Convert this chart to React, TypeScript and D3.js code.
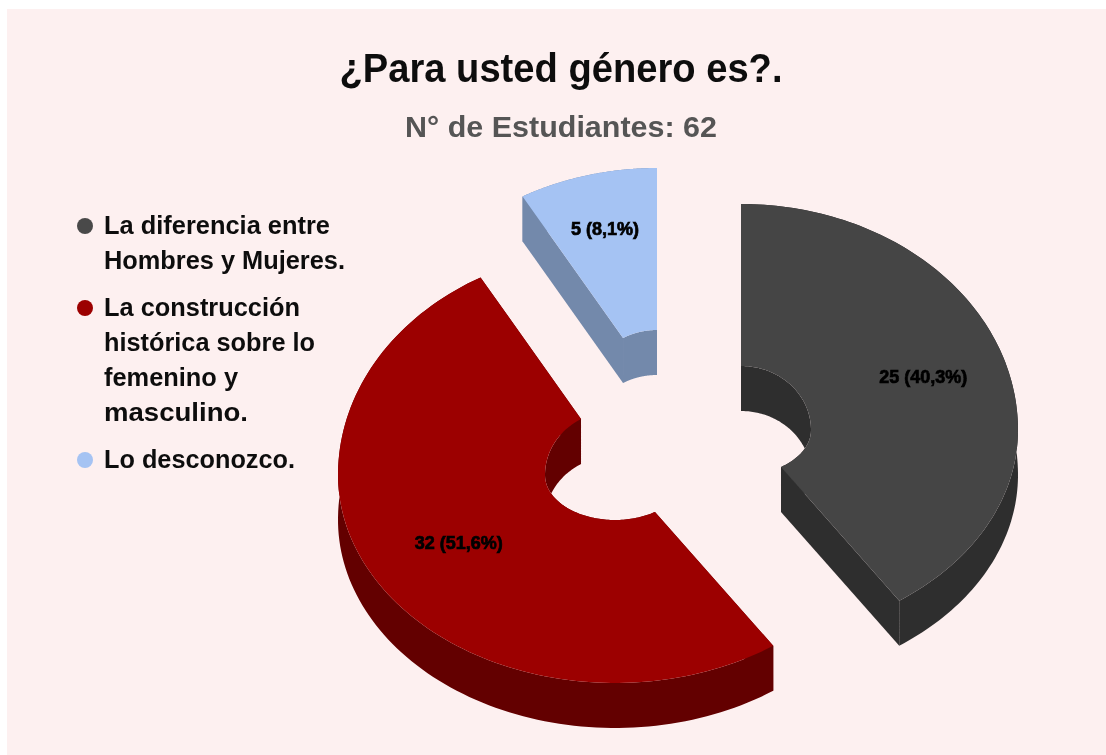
import React from "react";
import * as d3 from "d3";

const titleText = "¿Para usted género es?.";
const subtitleText = "N° de Estudiantes: 62";
const categories = ["La diferencia entre Hombres y Mujeres.", "La construcción histórica sobre lo femenino y masculino.", "Lo desconozco."];
const legendLines = [["La diferencia entre", "Hombres y Mujeres."], ["La construcción", "histórica sobre lo", "femenino y", "masculino."], ["Lo desconozco."]];
const legendWidths = [[226, 241], [196, 211, 134, 144], [191]];
const values = [25, 32, 5];
const topColors = ["#444444", "#9c0000", "#a5c3f3"];
const wallColors = ["#2f2f2f", "#640000", "#7389ab"];
const centersX = [741, 615, 657];
const centersY = [430, 475, 394];
const labelRadii = [0.69, 0.665, 0.75];
const labelNudge = [0, 1, 5];
const legendDots = ["#4a4a4a", "#9c0000", "#a5c3f3"];

const W = 1106, H = 755;
const RX = 277, RY_BACK = 226, RY_FRONT = 208;
const IRX = 70, IRY_BACK = 64, IRY_FRONT = 45;
const DEPTH = 45;
const FONT = "'Liberation Sans', Arial, sans-serif";

function outerPt(a: number, cx: number, cy: number, t = 1): [number, number] {
  const c = Math.cos(a);
  return [cx + RX * t * Math.sin(a), cy - (c > 0 ? RY_BACK : RY_FRONT) * t * c];
}
function innerPt(a: number, cx: number, cy: number): [number, number] {
  const c = Math.cos(a);
  return [cx + IRX * Math.sin(a), cy - (c > 0 ? IRY_BACK : IRY_FRONT) * c];
}
const line = d3.line();
const shift = (p: [number, number]): [number, number] => [p[0], p[1] + DEPTH];

export default function App() {
  const arcs = d3.pie<number>().sort(null)(values);
  const total = d3.sum(values);
  const fmt = (v: number) => `${v} (${((v / total) * 100).toFixed(1).replace(".", ",")}%)`;
  let y = 234;
  return (
    <svg width={W} height={H} style={{ position: "absolute", left: 0, top: 0, background: "#fff" }} fontFamily={FONT}>
      <defs>
        <filter id="soft" x="-5%" y="-5%" width="110%" height="110%">
          <feGaussianBlur stdDeviation="0.7" />
        </filter>
      </defs>
      <rect x={7} y={9} width={W - 7} height={H - 9} fill="#fdf0f0" />
      <g filter="url(#soft)">
        <text x={561} y={82} textAnchor="middle" fontSize={40} fontWeight="bold" fill="#111" textLength={443} lengthAdjust="spacingAndGlyphs">{titleText}</text>
        <text x={561} y={137} textAnchor="middle" fontSize={30} fontWeight="bold" fill="#555" textLength={312} lengthAdjust="spacingAndGlyphs">{subtitleText}</text>
        {arcs.map((d, i) => {
          const cx = centersX[i], cy = centersY[i];
          const angles = d3.range(0, 121).map((k) => d.startAngle + ((d.endAngle - d.startAngle) * k) / 120);
          const outer = angles.map((a) => outerPt(a, cx, cy));
          const inner = angles.map((a) => innerPt(a, cx, cy));
          const band = (pts: [number, number][]) => line([...pts, ...pts.map(shift).reverse()])! + "Z";
          const top = line([...outer, ...inner.slice().reverse()])! + "Z";
          const radial = (a: [number, number], b: [number, number]) => band([a, b]);
          const wall = wallColors[i];
          return (
            <g key={categories[i]}>
              <path d={band(outer)} fill={wall} />
              <path d={band(inner)} fill={wall} />
              <path d={radial(outer[0], inner[0])} fill={wall} />
              <path d={radial(outer[120], inner[120])} fill={wall} />
              <path d={top} fill={topColors[i]} />
            </g>
          );
        })}
        {arcs.map((d, i) => {
          const mid = (d.startAngle + d.endAngle) / 2;
          const [x, yy] = outerPt(mid, centersX[i], centersY[i], labelRadii[i]);
          return (
            <text key={i} x={x} y={yy + labelNudge[i]} textAnchor="middle" fontSize={18} fontWeight="bold" fill="#000" stroke="#000" strokeWidth={0.7} textLength={i === 2 ? 68 : 88} lengthAdjust="spacingAndGlyphs">
              {fmt(values[i])}
            </text>
          );
        })}
        {legendLines.map((lines, i) => {
          const startY = y;
          const group = (
            <g key={i}>
              <circle cx={85} cy={startY - 8} r={8} fill={legendDots[i]} />
              {lines.map((t, j) => (
                <text key={t} x={104} y={startY + j * 35} fontSize={26} fontWeight="bold" fill="#111" textLength={legendWidths[i][j]} lengthAdjust="spacingAndGlyphs">{t}</text>
              ))}
            </g>
          );
          y += lines.length * 35 + 12;
          return group;
        })}
      </g>
    </svg>
  );
}
